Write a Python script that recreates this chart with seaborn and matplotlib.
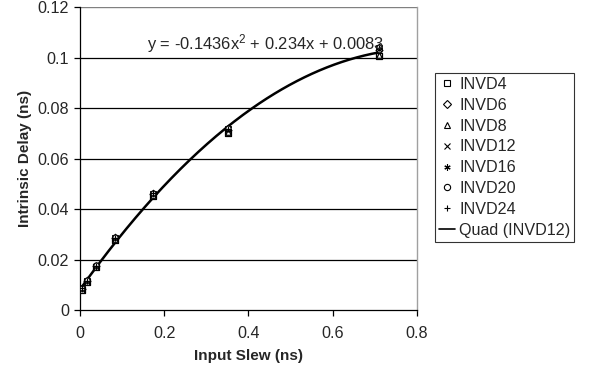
import numpy as np
import seaborn as sns
import matplotlib.pyplot as plt
from matplotlib.lines import Line2D

# 讀取圖上的數據
slew = [0.004, 0.016, 0.038, 0.084, 0.173, 0.352, 0.710]
invd4 = [0.0080, 0.0112, 0.0170, 0.0280, 0.0453, 0.0702, 0.1005]
invd6 = [0.0085, 0.0116, 0.0174, 0.0285, 0.0460, 0.0712, 0.1030]
invd8 = [0.0082, 0.0113, 0.0171, 0.0282, 0.0455, 0.0706, 0.1010]
invd12 = [0.0086, 0.0117, 0.0175, 0.0287, 0.0462, 0.0716, 0.1035]
invd16 = [0.0088, 0.0119, 0.0177, 0.0289, 0.0465, 0.0720, 0.1040]
invd20 = [0.0089, 0.0120, 0.0178, 0.0290, 0.0466, 0.0722, 0.1042]
invd24 = [0.0087, 0.0118, 0.0176, 0.0288, 0.0464, 0.0718, 0.1038]
names = ['INVD4', 'INVD6', 'INVD8', 'INVD12', 'INVD16', 'INVD20', 'INVD24']
quad_coef = [-0.1436, 0.234, 0.0083]

sns.set_style('white')
plt.rcParams['font.family'] = ['Liberation Sans', 'DejaVu Sans']
plt.rcParams['mathtext.fontset'] = 'custom'
plt.rcParams['mathtext.rm'] = 'Liberation Sans'
plt.rcParams['mathtext.it'] = 'Liberation Sans'

fig = plt.figure(figsize=(5.89, 3.74), dpi=100)
ax = fig.add_axes([0.1358, 0.1698, 0.5722, 0.8115])

# 網格線
for g in [0.02, 0.04, 0.06, 0.08, 0.1]:
    ax.axhline(g, color='black', lw=0.9, zorder=0)
ax.axhline(0.12, color='#808080', lw=1.0, zorder=0)

# 二次趨勢線
xs = np.linspace(slew[0], slew[-1], 200)
ax.plot(xs, np.polyval(quad_coef, xs), color='black', lw=1.8, zorder=2)

styles = [
    dict(marker='s', facecolor='white', edgecolor='black', s=16, linewidth=0.9),
    dict(marker='D', facecolor='white', edgecolor='black', s=12, linewidth=0.9),
    dict(marker='^', facecolor='white', edgecolor='black', s=16, linewidth=0.9),
    dict(marker='x', color='black', s=16, linewidth=0.9),
    dict(marker=(6, 2, 0), color='black', s=20, linewidth=0.9),
    dict(marker='o', facecolor='white', edgecolor='black', s=14, linewidth=0.9),
    dict(marker='+', color='black', s=20, linewidth=0.9),
]
series = [invd4, invd6, invd8, invd12, invd16, invd20, invd24]
for ys, st in zip(series, styles):
    sns.scatterplot(x=slew, y=ys, ax=ax, zorder=3, **st)

ax.set_xlim(0, 0.8)
ax.set_ylim(0, 0.12)
ax.set_xticks([0, 0.2, 0.4, 0.6, 0.8])
ax.set_xticklabels(['0', '0.2', '0.4', '0.6', '0.8'])
ax.set_yticks([0, 0.02, 0.04, 0.06, 0.08, 0.1, 0.12])
ax.set_yticklabels(['0', '0.02', '0.04', '0.06', '0.08', '0.1', '0.12'])
ax.tick_params(axis='both', labelsize=11.6, length=4, width=0.9, color='black',
               direction='out', bottom=True, left=True, pad=4)
ax.tick_params(axis='x', pad=7)
for side in ['left', 'bottom']:
    ax.spines[side].set_color('black')
    ax.spines[side].set_linewidth(0.9)
ax.spines['right'].set_color('#a0a0a0')
ax.spines['right'].set_linewidth(1.0)
ax.spines['top'].set_visible(False)

ax.set_xlabel('Input Slew (ns)', fontsize=11, fontweight='bold', labelpad=6)
ax.set_ylabel('Intrinsic Delay (ns)', fontsize=11, fontweight='bold', labelpad=4)

ax.text(0.159, 0.1054, 'y = -0.1436x$^2$ + 0.234x + 0.0083', fontsize=11.9,
        va='center', ha='left')

handles = []
for n, st in zip(names, styles):
    fc = st.get('facecolor', 'black')
    handles.append(Line2D([], [], linestyle='none', marker=st['marker'], markersize=4.5,
                          markerfacecolor=fc, markeredgecolor='black', markeredgewidth=0.8,
                          label=n))
handles.append(Line2D([], [], color='black', lw=1.2, label='Quad (INVD12)'))
leg = fig.legend(handles=handles, loc='upper left', bbox_to_anchor=(0.7385, 0.805),
                 fontsize=11.6, frameon=True, fancybox=False, edgecolor='black',
                 handlelength=1.0, handletextpad=0.25, labelspacing=0.36,
                 borderpad=0.25, borderaxespad=0)
leg.get_frame().set_linewidth(0.8)

plt.savefig('out.png', dpi=100)
